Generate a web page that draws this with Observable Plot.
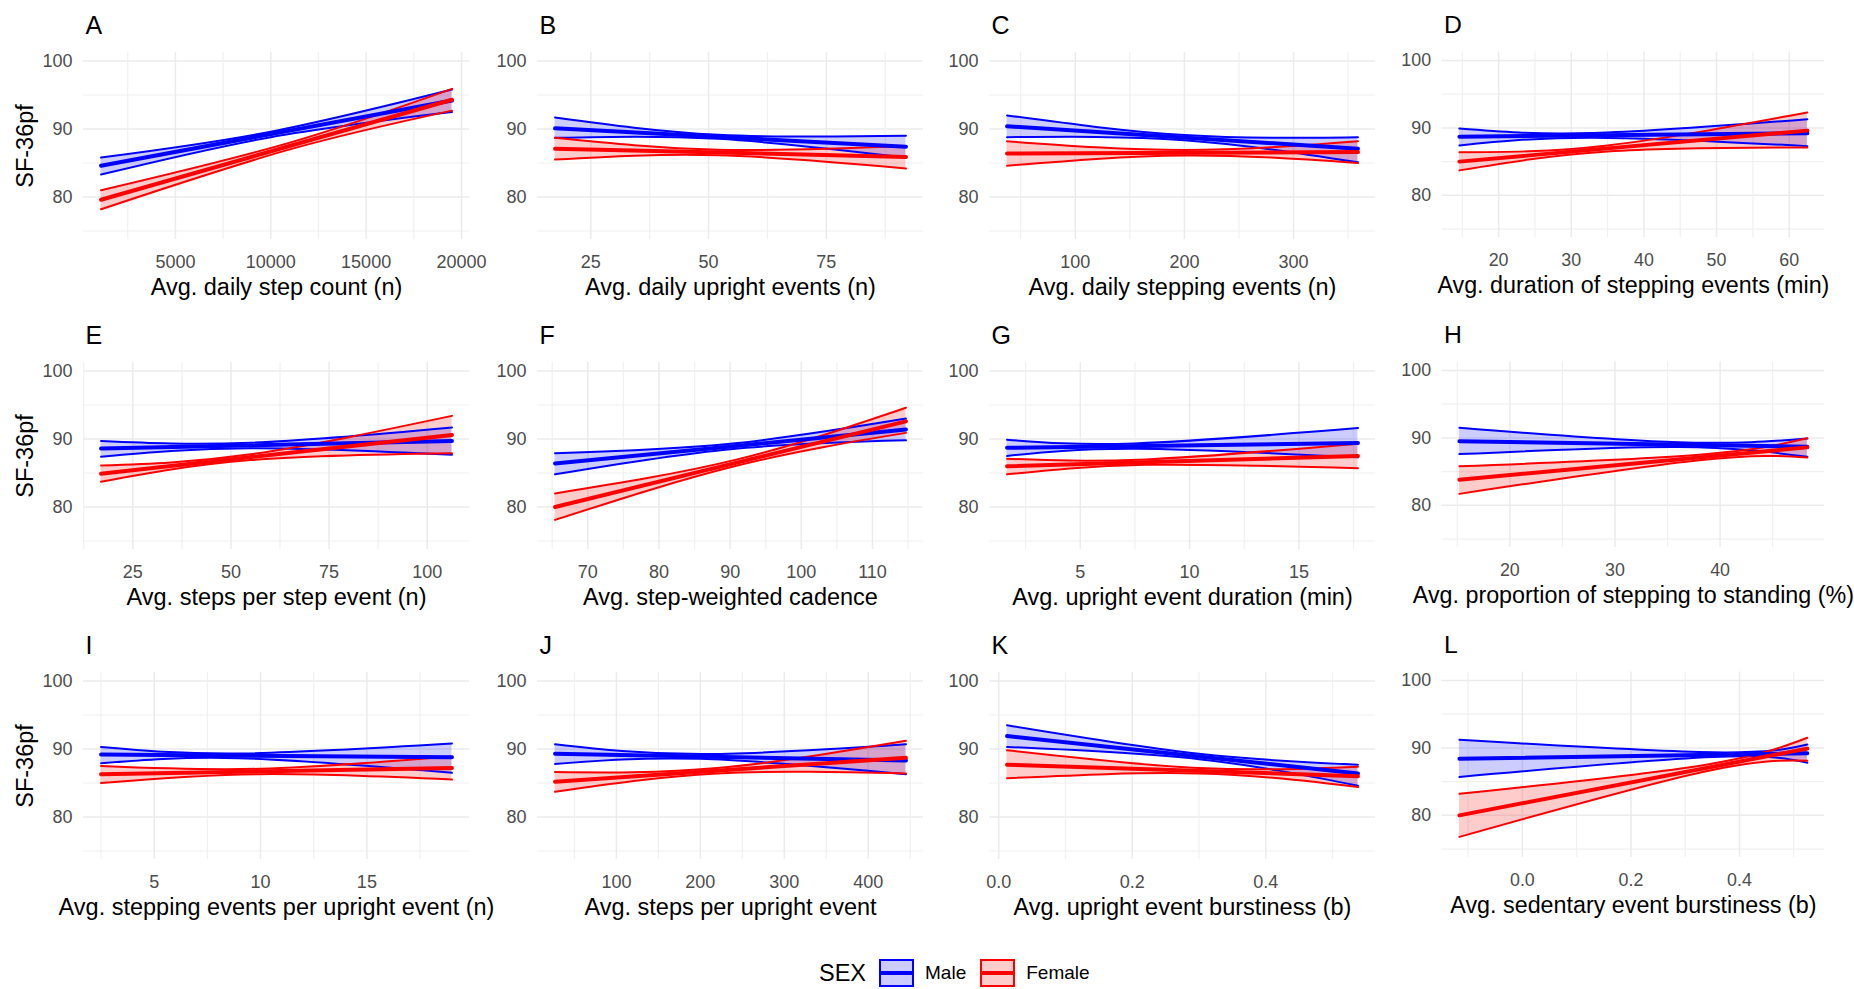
<!DOCTYPE html>
<html>
<head>
<meta charset="utf-8">
<script src="https://cdn.jsdelivr.net/npm/d3@7"></script>
<script src="https://cdn.jsdelivr.net/npm/@observablehq/plot@0.6"></script>
<style>
  html, body { margin: 0; padding: 0; background: #fff; overflow: hidden; }
  #fig { position: relative; width: 1854px; height: 989px; overflow: hidden;
         font-family: "Liberation Sans", Arial, Helvetica, sans-serif; }
  .cell { position: absolute; }
  .cell svg { overflow: visible; }
  #legend { position: absolute; top: 957px; left: 819px; height: 32px; display: flex;
            align-items: center; font-size: 19px; color: #000; }
  #legend .title { font-size: 23.5px; margin-right: 13px; }
  #legend svg { margin-right: 10px; }
  #legend .lab { margin-right: 14px; }
</style>
</head>
<body>
<div id="fig"></div>
<script>
// Panel labels and axis titles
const panelLetters = ["A", "B", "C", "D", "E", "F", "G", "H", "I", "J", "K", "L"];
const xTitles = [
  "Avg. daily step count (n)",
  "Avg. daily upright events (n)",
  "Avg. daily stepping events (n)",
  "Avg. duration of stepping events (min)",
  "Avg. steps per step event (n)",
  "Avg. step-weighted cadence",
  "Avg. upright event duration (min)",
  "Avg. proportion of stepping to standing (%)",
  "Avg. stepping events per upright event (n)",
  "Avg. steps per upright event",
  "Avg. upright event burstiness (b)",
  "Avg. sedentary event burstiness (b)"
];
const yTitle = "SF-36pf";

// Tick values
const xTicks = [
  [5000, 10000, 15000, 20000], [25, 50, 75], [100, 200, 300], [20, 30, 40, 50, 60],
  [25, 50, 75, 100], [70, 80, 90, 100, 110], [5, 10, 15], [20, 30, 40],
  [5, 10, 15], [100, 200, 300, 400], [0, 0.2, 0.4], [0, 0.2, 0.4]
];
const xMinorTicks = [
  [2500, 7500, 12500, 17500], [12.5, 37.5, 62.5, 87.5], [50, 150, 250, 350], [15, 25, 35, 45, 55, 65],
  [12.5, 37.5, 62.5, 87.5], [65, 75, 85, 95, 105, 115], [2.5, 7.5, 12.5, 17.5], [15, 25, 35, 45],
  [2.5, 7.5, 12.5, 17.5], [50, 150, 250, 350, 450], [0.1, 0.3, 0.5], [-0.1, 0.1, 0.3, 0.5]
];
const xTickDecimals = [0, 0, 0, 0, 0, 0, 0, 0, 0, 0, 1, 1];
const yTicks = [80, 90, 100];
const yMinorTicks = [75, 85, 95];
const yDomain = [73.75, 101.25];

// Range of each predictor
const xStart = [1100, 17.4, 37.5, 14.6, 16.9, 65.4, 1.65, 15.2, 2.5, 26.9, 0.0125, -0.116];
const xEnd   = [19500, 91.9, 359, 62.5, 106.3, 114.7, 17.7, 48.3, 19.0, 444.9, 0.538, 0.525];

// Where each confidence band is narrowest
const maleMidX   = [10000, 52, 200, 33, 55, 90, 7.5, 36, 9, 200, 0.3, 0.35];
const femaleMidX = [11000, 52, 200, 35, 55, 91, 8, 38, 10, 220, 0.3, 0.33];

// Fitted SF-36pf at start and end of the range
const maleFit = [
  [84.6, 94.2], [90.1, 87.4], [90.4, 87.1], [88.7, 89.2], [88.6, 89.7], [86.4, 91.4],
  [88.7, 89.4], [89.5, 88.7], [89.2, 88.8], [89.3, 88.3], [91.9, 86.4], [88.4, 89.2]
];
const femaleFit = [
  [79.6, 94.3], [87.1, 85.9], [86.4, 86.6], [85.0, 89.6], [84.9, 90.6], [80.0, 92.6],
  [86.0, 87.5], [83.8, 88.6], [86.3, 87.2], [85.2, 88.7], [87.7, 86.0], [80.0, 89.9]
];

// 95% confidence band at start, narrowest point and end
const maleLower = [
  [83.3, 88.8, 92.5], [88.7, 88.55, 85.8], [88.8, 88.35, 85.1], [87.4, 88.55, 87.3],
  [87.4, 88.65, 87.7], [84.8, 88.5, 89.8], [87.5, 88.55, 87.3], [87.6, 88.65, 87.2],
  [87.9, 88.65, 86.5], [87.8, 88.55, 86.3], [90.3, 88.5, 84.6], [85.7, 88.65, 87.8]
];
const maleUpper = [
  [85.8, 89.6, 95.8], [91.7, 89.15, 89.0], [92.0, 89.1, 88.8], [89.9, 89.25, 91.3],
  [89.7, 89.45, 91.7], [87.9, 89.3, 93.0], [89.9, 89.35, 91.6], [91.5, 89.35, 89.9],
  [90.3, 89.35, 90.8], [90.7, 89.25, 90.7], [93.5, 89.3, 87.7], [91.2, 89.35, 90.5]
];
const femaleLower = [
  [78.2, 87.0, 92.7], [85.5, 86.15, 84.2], [84.6, 86.1, 85.0], [83.7, 86.5, 87.1],
  [83.7, 86.9, 87.9], [78.1, 86.1, 90.9], [84.8, 86.2, 85.7], [81.7, 86.7, 87.1],
  [85.0, 86.3, 85.5], [83.7, 86.4, 86.4], [85.7, 86.4, 84.4], [76.8, 86.4, 88.1]
];
const femaleUpper = [
  [81.0, 88.0, 95.9], [88.7, 86.95, 87.5], [88.2, 86.9, 88.2], [86.4, 87.4, 92.3],
  [86.1, 87.75, 93.4], [82.0, 87.0, 94.6], [87.1, 87.0, 89.3], [85.8, 87.5, 89.95],
  [87.5, 87.1, 88.9], [86.6, 87.2, 91.2], [89.8, 87.2, 87.4], [83.2, 87.4, 91.5]
];

const sexes = ["Male", "Female"];
const sexColors = ["#0000ff", "#ff0000"];

// Layout of the 4 x 3 grid
const colPanelLeft = [83, 537, 989, 1442];
const panelWidth = 386;
const rowHeight = 310;
const panelTop = 52;
const panelHeight = 187;
const fontFamily = '"Liberation Sans", Arial, Helvetica, sans-serif';
const edgeWidth = 2.0;
const fitWidth = 4.0;

const fig = document.getElementById("fig");

panelLetters.forEach((letter, i) => {
  const col = i % 4, row = Math.floor(i / 4);
  const ml = col === 0 ? 83 : 60, mr = 30;
  const span = xEnd[i] - xStart[i];
  const xDomain = [xStart[i] - 0.05 * span, xEnd[i] + 0.05 * span];

  const band = [], fit = [];
  [["Male", maleMidX, maleLower, maleUpper, maleFit],
   ["Female", femaleMidX, femaleLower, femaleUpper, femaleFit]].forEach(([sex, mid, lo, hi, f]) => {
    [xStart[i], mid[i], xEnd[i]].forEach((x, k) => band.push({sex, x, lo: lo[i][k], hi: hi[i][k]}));
    fit.push({sex, x: xStart[i], y: f[i][0]}, {sex, x: xEnd[i], y: f[i][1]});
  });

  const fmt = xTickDecimals[i] ? d3.format(".1f") : d3.format("d");
  const minor = xMinorTicks[i].filter(v => v >= xDomain[0] && v <= xDomain[1]);

  const chart = Plot.plot({
    width: ml + panelWidth + mr,
    height: rowHeight,
    marginLeft: ml,
    marginRight: mr,
    marginTop: panelTop,
    marginBottom: rowHeight - panelTop - panelHeight,
    style: {fontFamily, fontSize: "18px", background: "transparent", overflow: "visible"},
    x: {domain: xDomain},
    y: {domain: yDomain},
    color: {domain: sexes, range: sexColors},
    marks: [
      Plot.ruleY(yMinorTicks, {stroke: "#f0f0f0", strokeWidth: 1.2}),
      Plot.ruleY(yTicks, {stroke: "#ebebeb", strokeWidth: 1.5}),
      Plot.ruleX(minor, {stroke: "#f0f0f0", strokeWidth: 1.2}),
      Plot.ruleX(xTicks[i], {stroke: "#ebebeb", strokeWidth: 1.5}),
      Plot.areaY(band, {x: "x", y1: "lo", y2: "hi", fill: "sex", fillOpacity: 0.2, curve: "natural"}),
      Plot.line(band, {x: "x", y: "lo", stroke: "sex", strokeWidth: edgeWidth, curve: "natural"}),
      Plot.line(band, {x: "x", y: "hi", stroke: "sex", strokeWidth: edgeWidth, curve: "natural"}),
      Plot.line(fit, {x: "x", y: "y", stroke: "sex", strokeWidth: fitWidth}),
      Plot.axisX(xTicks[i], {tickSize: 0, tickPadding: 16, tickFormat: fmt, label: null,
                             color: "#4d4d4d", fontSize: 18}),
      Plot.axisY(yTicks, {tickSize: 0, tickPadding: 11, label: null, color: "#4d4d4d", fontSize: 18}),
      Plot.text([xTitles[i]], {text: d => d, frameAnchor: "bottom", lineAnchor: "middle",
                               textAnchor: "middle", dy: 48, fontSize: 23.5, fill: "#000"}),
      Plot.text([letter], {text: d => d, frameAnchor: "top-left", lineAnchor: "middle", dx: 2, dy: -27,
                           fontSize: 25, textAnchor: "start", fill: "#000"}),
      col === 0
        ? Plot.text([yTitle], {text: d => d, frameAnchor: "left", lineAnchor: "middle",
                               textAnchor: "middle", dx: -58, rotate: -90, fontSize: 23.5, fill: "#000"})
        : null
    ]
  });

  const cell = document.createElement("div");
  cell.className = "cell";
  cell.style.left = (colPanelLeft[col] - ml) + "px";
  cell.style.top = (row * rowHeight) + "px";
  cell.appendChild(chart);
  fig.appendChild(cell);
});

// Legend for SEX
const legend = document.createElement("div");
legend.id = "legend";
const title = document.createElement("span");
title.className = "title";
title.textContent = "SEX";
legend.appendChild(title);
sexes.forEach((sex, k) => {
  const key = d3.create("svg").attr("width", 36).attr("height", 30);
  key.append("rect").attr("x", 1).attr("y", 2).attr("width", 33).attr("height", 26)
    .attr("fill", sexColors[k]).attr("fill-opacity", 0.2)
    .attr("stroke", sexColors[k]).attr("stroke-width", edgeWidth);
  key.append("line").attr("x1", 1).attr("x2", 34).attr("y1", 15).attr("y2", 15)
    .attr("stroke", sexColors[k]).attr("stroke-width", fitWidth);
  legend.appendChild(key.node());
  const lab = document.createElement("span");
  lab.className = "lab";
  lab.textContent = sex;
  legend.appendChild(lab);
});
fig.appendChild(legend);
</script>
</body>
</html>
